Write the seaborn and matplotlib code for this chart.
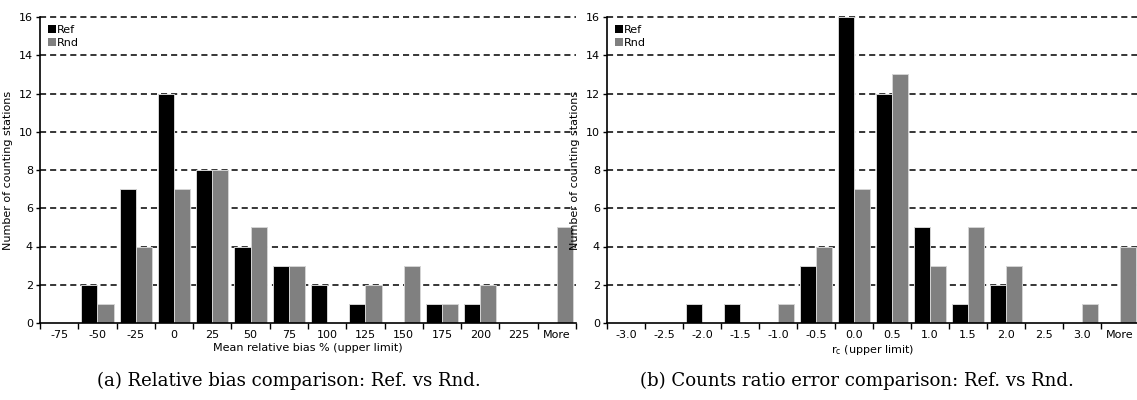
import numpy as np
import pandas as pd
import matplotlib
matplotlib.use("Agg")
import matplotlib.pyplot as plt
import seaborn as sns

# Histogram bins (upper limits) and station counts per method
bias_bins = ["-75", "-50", "-25", "0", "25", "50", "75", "100", "125",
             "150", "175", "200", "225", "More"]
bias_ref = [0, 2, 7, 12, 8, 4, 3, 2, 1, 0, 1, 1, 0, 0]
bias_rnd = [0, 1, 4, 7, 8, 5, 3, 0, 2, 3, 1, 2, 0, 5]

rc_bins = ["-3.0", "-2.5", "-2.0", "-1.5", "-1.0", "-0.5", "0.0", "0.5",
           "1.0", "1.5", "2.0", "2.5", "3.0", "More"]
rc_ref = [0, 0, 1, 1, 0, 3, 16, 12, 5, 1, 2, 0, 0, 0]
rc_rnd = [0, 0, 0, 0, 1, 4, 7, 13, 3, 5, 3, 0, 1, 4]

series_names = ["Ref", "Rnd"]
series_colors = ["#000000", "#808080"]

sns.set_theme(style="white")
plt.rcParams["font.family"] = ["DejaVu Sans"]
plt.rcParams["text.color"] = "black"
plt.rcParams["axes.labelcolor"] = "black"
plt.rcParams["xtick.color"] = "black"
plt.rcParams["ytick.color"] = "black"


def long_table(bins, ref, rnd):
    return pd.DataFrame({
        "bin": bins * 2,
        "count": ref + rnd,
        "method": [series_names[0]] * len(bins) + [series_names[1]] * len(bins),
    })


fig = plt.figure(figsize=(11.37, 4.0), dpi=100)
ax1 = fig.add_axes([40 / 1137, 1 - 323 / 400, 536 / 1137, 306 / 400])
ax2 = fig.add_axes([607 / 1137, 1 - 323 / 400, 532 / 1137, 306 / 400])

panels = [
    (ax1, long_table(bias_bins, bias_ref, bias_rnd), bias_bins,
     "Mean relative bias % (upper limit)"),
    (ax2, long_table(rc_bins, rc_ref, rc_rnd), rc_bins,
     r"r$_\mathrm{c}$ (upper limit)"),
]

for ax, df, bins, xlabel in panels:
    ax.set_axisbelow(True)
    for yv in range(2, 17, 2):
        ax.axhline(yv, color="black", lw=1.1, ls=(0, (4, 2.6)), zorder=0,
                   clip_on=False)
    sns.barplot(data=df, x="bin", y="count", hue="method", order=bins,
                hue_order=series_names, palette=series_colors, width=0.84,
                edgecolor="#d4d4d4", linewidth=0.7, saturation=1,
                ax=ax, zorder=2)
    n = len(bins)
    ax.set_xlim(-0.5, n - 0.5)
    ax.set_ylim(0, 16)
    ax.set_yticks(range(0, 17, 2))
    ax.set_yticklabels([str(v) for v in range(0, 17, 2)], fontsize=8)
    # category boundaries carry the tick marks, centres carry the labels
    ax.set_xticks(np.arange(-0.5, n, 1.0))
    ax.set_xticklabels([])
    ax.set_xticks(np.arange(n), minor=True)
    ax.set_xticklabels(bins, minor=True, fontsize=8)
    ax.tick_params(axis="x", which="major", direction="out", length=4,
                   width=1, color="black", bottom=True)
    ax.tick_params(axis="x", which="minor", length=0, pad=5)
    ax.tick_params(axis="y", direction="out", length=3, width=1,
                   color="black", left=True, pad=2)
    ax.set_xlabel(xlabel, fontsize=8, labelpad=2)
    ax.set_ylabel("Number of counting stations", fontsize=8, labelpad=4)
    for side in ["top", "right"]:
        ax.spines[side].set_visible(False)
    for side in ["left", "bottom"]:
        ax.spines[side].set_color("black")
        ax.spines[side].set_linewidth(1.2)
    ax.grid(False)
    leg = ax.legend(loc="upper left", frameon=False, fontsize=8,
                    handlelength=0.7, handleheight=0.7, handletextpad=0.1,
                    labelspacing=0.25, borderaxespad=0.3,
                    bbox_to_anchor=(0.0, 1.0))
    for h in leg.legend_handles:
        h.set_edgecolor("none")

fig.text(289 / 1137, 0.048, "(a) Relative bias comparison: Ref. vs Rnd.",
         ha="center", va="center", fontsize=13.1, family="DejaVu Serif")
fig.text(857 / 1137, 0.048, "(b) Counts ratio error comparison: Ref. vs Rnd.",
         ha="center", va="center", fontsize=13.1, family="DejaVu Serif")

fig.savefig("out.png", dpi=100)
